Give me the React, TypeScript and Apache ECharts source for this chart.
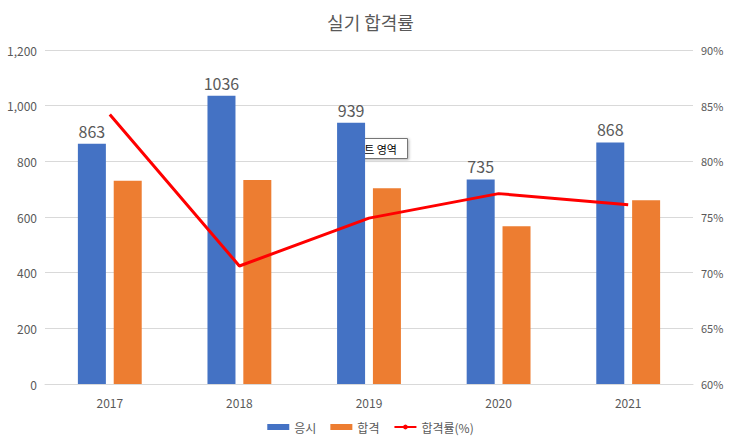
import React, { useEffect, useRef } from "react";
import * as echarts from "echarts";

const years = ["2017", "2018", "2019", "2020", "2021"];
const applicants = [863, 1036, 939, 735, 868];
const passed = [730, 733, 703, 567, 660];
const passRate = [84.2, 70.6, 74.9, 77.1, 76.1];
const rateLabels = ["84%", "71%", "75%", "77%", "76%"];

export default function App() {
  const ref = useRef<HTMLDivElement>(null);
  useEffect(() => {
    document.body.style.margin = "0";
    const chart = echarts.init(ref.current!, null, { renderer: "svg" });
    const font = "'Noto Sans CJK KR', 'Noto Sans', sans-serif";
    chart.setOption({
      animation: false,
      textStyle: { fontFamily: font },
      title: {
        text: "실기 합격률",
        left: "center",
        top: 8,
        textStyle: { fontSize: 18, fontWeight: "normal", color: "#595959", fontFamily: font },
      },
      grid: { left: 45, right: 48, top: 50, bottom: 60 },
      legend: {
        bottom: 6,
        itemWidth: 22,
        itemHeight: 6,
        itemGap: 14,
        textStyle: { fontSize: 12, color: "#595959" },
        data: [
          { name: "응시", icon: "rect" },
          { name: "합격", icon: "rect" },
          { name: "합격률(%)" },
        ],
      },
      xAxis: {
        type: "category",
        data: years,
        axisTick: { show: false },
        axisLine: { lineStyle: { color: "#d9d9d9" } },
        axisLabel: { color: "#595959", fontSize: 12, margin: 12 },
      },
      yAxis: [
        {
          type: "value",
          min: 0,
          max: 1200,
          interval: 200,
          axisLabel: { color: "#595959", fontSize: 12 },
          splitLine: { lineStyle: { color: "#d9d9d9" } },
        },
        {
          type: "value",
          min: 60,
          max: 90,
          interval: 5,
          axisLabel: { color: "#595959", fontSize: 11, formatter: "{value}%" },
          splitLine: { show: false },
        },
      ],
      series: [
        {
          name: "응시",
          type: "bar",
          data: applicants,
          barWidth: 28,
          barGap: "28%",
          itemStyle: { color: "#4472c4" },
          label: { show: true, position: "top", color: "#595959", fontSize: 16 },
        },
        {
          name: "합격",
          type: "bar",
          data: passed,
          barWidth: 28,
          itemStyle: { color: "#ed7d31" },
        },
        {
          name: "합격률(%)",
          type: "line",
          yAxisIndex: 1,
          data: passRate,
          symbol: "none",
          lineStyle: { color: "#ff0000", width: 3 },
          itemStyle: { color: "#ff0000" },
          label: {
            show: true,
            position: "right",
            distance: 10,
            color: "#ff0000",
            fontSize: 16,
            formatter: (p: any) => rateLabels[p.dataIndex],
          },
        },
      ],
      graphic: [
        {
          type: "group",
          left: 343,
          top: 138,
          children: [
            {
              type: "rect",
              shape: { x: 0, y: 0, width: 64, height: 20 },
              style: { fill: "#fff", stroke: "#767676", lineWidth: 1, shadowBlur: 3, shadowColor: "rgba(0,0,0,0.3)", shadowOffsetX: 1, shadowOffsetY: 1 },
            },
            {
              type: "text",
              x: 32,
              y: 10,
              style: { text: "차트 영역", fontSize: 11, fill: "#000", align: "center", verticalAlign: "middle", fontFamily: font },
            },
          ],
        },
      ],
    });
    return () => chart.dispose();
  }, []);
  return <div ref={ref} style={{ width: 741, height: 444 }} />;
}
